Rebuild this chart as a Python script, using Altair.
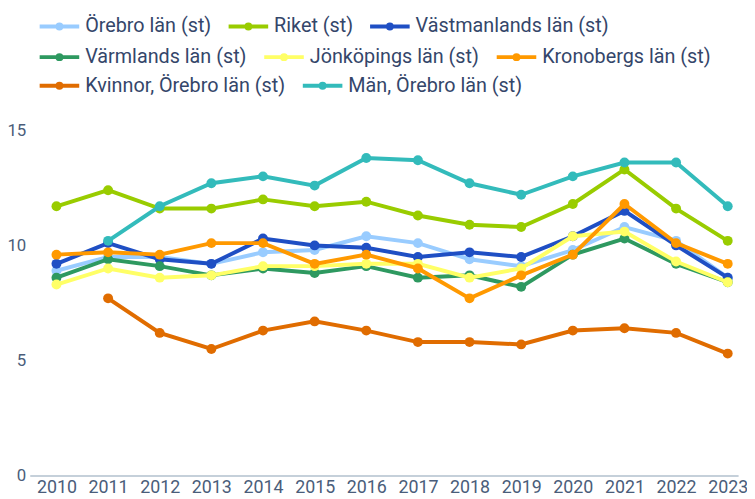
import altair as alt
import pandas as pd

years = list(range(2010, 2024))
series_names = [
    "Örebro län (st)", "Riket (st)", "Västmanlands län (st)",
    "Värmlands län (st)", "Jönköpings län (st)", "Kronobergs län (st)",
    "Kvinnor, Örebro län (st)", "Män, Örebro län (st)",
]
colors = ["#99ccff", "#99cc00", "#1f4fc4", "#2e9960", "#ffff66", "#ff9900", "#e06c00", "#33bbbb"]

orebro = [8.9, 9.5, 9.5, 9.2, 9.7, 9.8, 10.4, 10.1, 9.4, 9.1, 9.8, 10.8, 10.2, 8.6]
riket = [11.7, 12.4, 11.6, 11.6, 12.0, 11.7, 11.9, 11.3, 10.9, 10.8, 11.8, 13.3, 11.6, 10.2]
vastmanland = [9.2, 10.1, 9.4, 9.2, 10.3, 10.0, 9.9, 9.5, 9.7, 9.5, 10.4, 11.5, 10.0, 8.6]
varmland = [8.6, 9.4, 9.1, 8.7, 9.0, 8.8, 9.1, 8.6, 8.7, 8.2, 9.6, 10.3, 9.2, 8.4]
jonkoping = [8.3, 9.0, 8.6, 8.7, 9.1, 9.1, 9.2, 9.2, 8.6, 9.0, 10.4, 10.6, 9.3, 8.4]
kronoberg = [9.6, 9.7, 9.6, 10.1, 10.1, 9.2, 9.6, 9.0, 7.7, 8.7, 9.6, 11.8, 10.1, 9.2]
kvinnor = [None, 7.7, 6.2, 5.5, 6.3, 6.7, 6.3, 5.8, 5.8, 5.7, 6.3, 6.4, 6.2, 5.3]
man = [None, 10.2, 11.7, 12.7, 13.0, 12.6, 13.8, 13.7, 12.7, 12.2, 13.0, 13.6, 13.6, 11.7]

all_series = [orebro, riket, vastmanland, varmland, jonkoping, kronoberg, kvinnor, man]
legend_rows = [[0, 1, 2], [3, 4, 5], [6, 7]]

rows = []
for i, (name, vals) in enumerate(zip(series_names, all_series)):
    for y, v in zip(years, vals):
        if v is not None:
            rows.append({"year": str(y), "series": name, "value": v, "order": i})
df = pd.DataFrame(rows)

font = "Roboto"

x_enc = alt.X("year:O", title=None,
              scale=alt.Scale(type="point", padding=0.359, align=0.72),
              axis=alt.Axis(labelAngle=0, ticks=False, domain=True, domainColor="#c5d0da",
                            domainWidth=2, labelColor="#4a5d7a", labelFont=font,
                            labelFontSize=18, labelPadding=3, grid=False,
                            labelOverlap=False, labelBound=False))
y_enc = alt.Y("value:Q", title=None,
              scale=alt.Scale(domain=[0, 15], nice=False),
              axis=alt.Axis(values=[0, 5, 10, 15], ticks=False, domain=False, grid=False,
                            labelColor="#4a5d7a", labelFont=font, labelFontSize=17,
                            labelPadding=4))

symbol_path = "M-1,0H1M0.1,0A0.1,0.1,0,1,1,-0.1,0A0.1,0.1,0,1,1,0.1,0Z"
legend_y = [-127, -96, -67]

base = alt.Chart(df)
groups = []
for r, idxs in enumerate(legend_rows):
    names = [series_names[i] for i in idxs]
    cols = [colors[i] for i in idxs]
    scale = alt.Scale(domain=names, range=cols)
    legend = alt.Legend(
        title=None, orient="none", legendX=8, legendY=legend_y[r],
        direction="horizontal", columnPadding=9, padding=0, labelLimit=400,
        symbolType=symbol_path, symbolSize=1600, symbolStrokeWidth=4,
        labelFont=font, labelFontSize=20, labelColor="#34466a",
        labelOffset=4, symbolOffset=0,
    )
    sub_layers = []
    for i in idxs:
        name = series_names[i]
        sub = base.transform_filter(alt.datum.series == name)
        sub_layers.append(sub.mark_line(strokeWidth=4).encode(
            x=x_enc, y=y_enc,
            color=alt.Color("series:N", scale=scale, sort=names, legend=legend)))
        sub_layers.append(sub.mark_circle(size=100, opacity=1).encode(
            x=x_enc, y=y_enc,
            color=alt.Color("series:N", scale=scale, sort=names, legend=legend)))
    groups.append(alt.layer(*sub_layers))

chart = alt.layer(*groups).resolve_scale(color="independent").properties(
    width=716, height=349,
    padding={"left": 22, "top": 121, "right": 9, "bottom": 22},
    autosize=alt.AutoSizeParams(type="none"),
).configure_view(stroke=None)

chart.save("out.html", embed_options={"renderer": "svg", "actions": False})
